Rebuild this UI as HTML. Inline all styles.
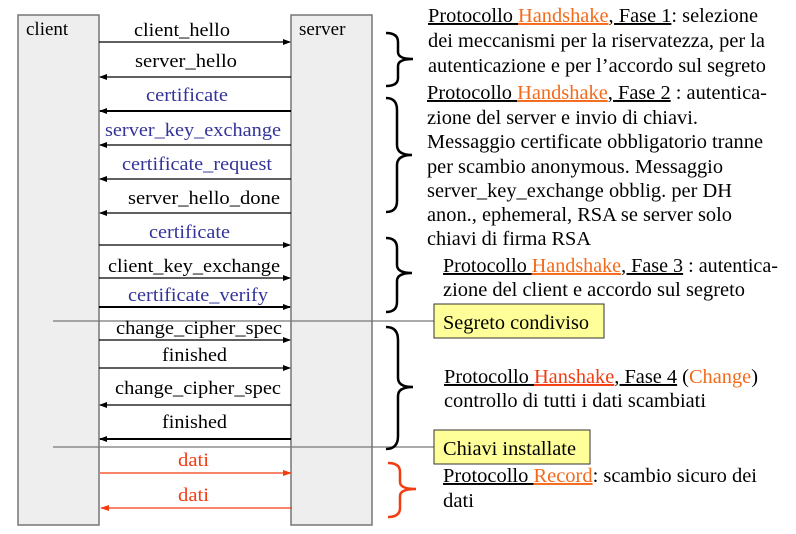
<!DOCTYPE html>
<html><head><meta charset="utf-8"><style>
html,body{margin:0;padding:0;background:#fff;}
svg, svg text{font-family:"Liberation Serif","Times New Roman",Tinos,"Nimbus Roman","DejaVu Serif",serif;}
</style></head><body>
<svg width="796" height="529" viewBox="0 0 796 529" xmlns="http://www.w3.org/2000/svg">
<defs>
<marker id="ab" markerWidth="8" markerHeight="8" refX="7" refY="3" orient="auto" markerUnits="userSpaceOnUse"><path d="M0,0 L8,3 L0,6z" fill="#000"/></marker>
<marker id="ar" markerWidth="9" markerHeight="8" refX="8" refY="3" orient="auto" markerUnits="userSpaceOnUse"><path d="M0,0 L9,3 L0,6z" fill="#f33c12"/></marker>
</defs>
<rect x="18" y="15" width="81" height="510" fill="#eeeeee" stroke="#777" stroke-width="1.5"/>
<rect x="291" y="15" width="81" height="510" fill="#eeeeee" stroke="#777" stroke-width="1.5"/>
<g font-size="19">
<text x="26" y="35">client</text>
<text x="299" y="35">server</text>
</g>
<g stroke="#000" stroke-width="1.3" fill="none">
<line x1="99" y1="42" x2="290" y2="42" marker-end="url(#ab)"/>
<line x1="291" y1="77" x2="100" y2="77" marker-end="url(#ab)"/>
<line x1="291" y1="111" x2="100" y2="111" marker-end="url(#ab)" stroke-width="2"/>
<line x1="291" y1="145" x2="100" y2="145" marker-end="url(#ab)"/>
<line x1="291" y1="179" x2="100" y2="179" marker-end="url(#ab)"/>
<line x1="291" y1="213" x2="100" y2="213" marker-end="url(#ab)"/>
<line x1="99" y1="245" x2="290" y2="245" marker-end="url(#ab)"/>
<line x1="99" y1="278" x2="290" y2="278" marker-end="url(#ab)"/>
<line x1="99" y1="307" x2="290" y2="307" marker-end="url(#ab)" stroke-width="2"/>
<line x1="99" y1="340" x2="290" y2="340" marker-end="url(#ab)"/>
<line x1="99" y1="368" x2="290" y2="368" marker-end="url(#ab)"/>
<line x1="291" y1="405" x2="100" y2="405" marker-end="url(#ab)"/>
<line x1="291" y1="439" x2="100" y2="439" marker-end="url(#ab)" stroke-width="2"/>
</g>
<g stroke="#f33c12" stroke-width="1.3">
<line x1="100" y1="473" x2="291" y2="473" marker-end="url(#ar)"/>
<line x1="292" y1="508" x2="101" y2="508" marker-end="url(#ar)"/>
</g>
<g stroke="#777" stroke-width="1.3">
<line x1="53" y1="321" x2="434" y2="321"/>
<line x1="53" y1="447" x2="434" y2="447"/>
</g>
<g font-size="18.5">
<text x="134" y="36" textLength="96" lengthAdjust="spacingAndGlyphs">client_hello</text>
<text x="135" y="67" textLength="102" lengthAdjust="spacingAndGlyphs">server_hello</text>
<text x="146" y="101" fill="#33339a" textLength="82" lengthAdjust="spacingAndGlyphs">certificate</text>
<text x="105" y="136" fill="#33339a" textLength="176" lengthAdjust="spacingAndGlyphs">server_key_exchange</text>
<text x="122" y="170" fill="#33339a" textLength="150" lengthAdjust="spacingAndGlyphs">certificate_request</text>
<text x="128" y="204" textLength="152" lengthAdjust="spacingAndGlyphs">server_hello_done</text>
<text x="149" y="238" fill="#33339a" textLength="81" lengthAdjust="spacingAndGlyphs">certificate</text>
<text x="108" y="272" textLength="172" lengthAdjust="spacingAndGlyphs">client_key_exchange</text>
<text x="128" y="301" fill="#33339a" textLength="140" lengthAdjust="spacingAndGlyphs">certificate_verify</text>
<text x="116" y="334" textLength="166" lengthAdjust="spacingAndGlyphs">change_cipher_spec</text>
<text x="162" y="361" textLength="65" lengthAdjust="spacingAndGlyphs">finished</text>
<text x="115" y="394" textLength="166" lengthAdjust="spacingAndGlyphs">change_cipher_spec</text>
<text x="162" y="428" textLength="65" lengthAdjust="spacingAndGlyphs">finished</text>
<text x="178" y="466" fill="#f33c12" textLength="31" lengthAdjust="spacingAndGlyphs">dati</text>
<text x="178" y="501" fill="#f33c12" textLength="31" lengthAdjust="spacingAndGlyphs">dati</text>
</g>
<g fill="none" stroke="#000" stroke-width="2.5">
<path d="M386,33 Q398,33 398,42 L398,52 Q398,59 413,59 Q398,59 398,66 L398,78 Q398,86 386,86"/>
<path d="M386,98 Q397,98 397,110 L397,145 Q397,155 412,155 Q397,155 397,165 L397,201 Q397,212 386,212"/>
<path d="M386,238 Q397,238 397,248 L397,265 Q397,273 412,273 Q397,273 397,281 L397,302 Q397,312 386,312"/>
<path d="M386,327 Q398,327 398,340 L398,378 Q398,387 413,387 Q398,387 398,396 L398,436 Q398,449 386,449"/>
</g>
<path d="M388,463 Q400,463 400,472 L400,482 Q400,489 416,489 Q400,489 400,496 L400,508 Q400,517 388,517" fill="none" stroke="#f33c12" stroke-width="2.5"/>
<rect x="434" y="304" width="170" height="34" fill="#ffff99" stroke="#333" stroke-width="1"/>
<rect x="434" y="430" width="156" height="34" fill="#ffff99" stroke="#333" stroke-width="1"/>
<g font-size="19.5">
<text x="443" y="329" textLength="146" lengthAdjust="spacingAndGlyphs">Segreto condiviso</text>
<text x="443" y="455" textLength="133" lengthAdjust="spacingAndGlyphs">Chiavi installate</text>
</g>
<g font-size="19.5" fill="#000">
<text x="428" y="22" textLength="330" lengthAdjust="spacingAndGlyphs"><tspan text-decoration="underline">Protocollo </tspan><tspan fill="#f36a1a" text-decoration="underline">Handshake</tspan><tspan text-decoration="underline">, Fase 1</tspan>: selezione</text>
<text x="428" y="47" textLength="337" lengthAdjust="spacingAndGlyphs">dei meccanismi per la riservatezza, per la</text>
<text x="428" y="72" textLength="338" lengthAdjust="spacingAndGlyphs">autenticazione e per l’accordo sul segreto</text>
<text x="427" y="99" textLength="340" lengthAdjust="spacingAndGlyphs"><tspan text-decoration="underline">Protocollo </tspan><tspan fill="#f36a1a" text-decoration="underline">Handshake</tspan><tspan text-decoration="underline">, Fase 2</tspan> : autentica-</text>
<text x="427" y="124" textLength="271" lengthAdjust="spacingAndGlyphs">zione del server e invio di chiavi.</text>
<text x="427" y="148" textLength="336" lengthAdjust="spacingAndGlyphs">Messaggio certificate obbligatorio tranne</text>
<text x="427" y="173" textLength="296" lengthAdjust="spacingAndGlyphs">per scambio anonymous. Messaggio</text>
<text x="427" y="197" textLength="305" lengthAdjust="spacingAndGlyphs">server_key_exchange obblig. per DH</text>
<text x="427" y="221" textLength="305" lengthAdjust="spacingAndGlyphs">anon., ephemeral, RSA se server solo</text>
<text x="427" y="245" textLength="164" lengthAdjust="spacingAndGlyphs">chiavi di firma RSA</text>
<text x="443" y="272" textLength="335" lengthAdjust="spacingAndGlyphs"><tspan text-decoration="underline">Protocollo </tspan><tspan fill="#f36a1a" text-decoration="underline">Handshake</tspan><tspan text-decoration="underline">, Fase 3</tspan> : autentica-</text>
<text x="443" y="296" textLength="302" lengthAdjust="spacingAndGlyphs">zione del client e accordo sul segreto</text>
<text x="444" y="383" textLength="314" lengthAdjust="spacingAndGlyphs"><tspan text-decoration="underline">Protocollo </tspan><tspan fill="#f33c12" text-decoration="underline">Hanshake</tspan><tspan text-decoration="underline">, Fase 4</tspan> (<tspan fill="#f36a1a">Change</tspan>)</text>
<text x="444" y="407" textLength="262" lengthAdjust="spacingAndGlyphs">controllo di tutti i dati scambiati</text>
<text x="443" y="482" textLength="314" lengthAdjust="spacingAndGlyphs"><tspan text-decoration="underline">Protocollo </tspan><tspan fill="#f36a1a" text-decoration="underline">Record</tspan>: scambio sicuro dei</text>
<text x="443" y="507" textLength="31" lengthAdjust="spacingAndGlyphs">dati</text>
</g>
</svg>
</body></html>
